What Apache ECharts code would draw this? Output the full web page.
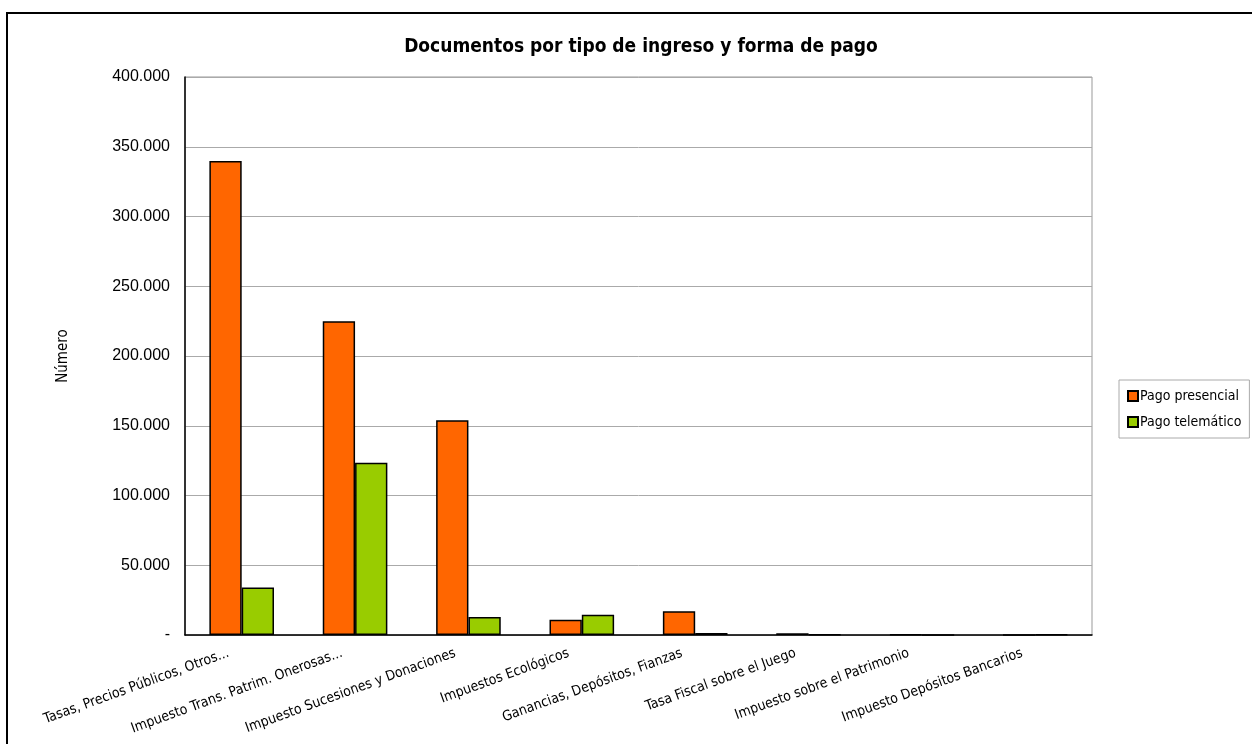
<!DOCTYPE html>
<html>
<head>
<meta charset="utf-8">
<script src="https://cdn.jsdelivr.net/npm/echarts@6/dist/echarts.min.js"></script>
<style>html,body{margin:0;padding:0;background:#fff}#c{width:1252px;height:744px}</style>
</head>
<body>
<div id="c"></div>
<script>
const categories = [
  'Tasas, Precios Públicos, Otros...',
  'Impuesto Trans. Patrim. Onerosas...',
  'Impuesto Sucesiones y Donaciones',
  'Impuestos Ecológicos',
  'Ganancias, Depósitos, Fianzas',
  'Tasa Fiscal sobre el Juego',
  'Impuesto sobre el Patrimonio',
  'Impuesto Depósitos Bancarios'
];
const pagoPresencial = [339700, 225000, 154000, 11000, 17000, 1200, 400, 0];
const pagoTelematico = [34000, 123500, 12900, 14600, 1500, 300, 50, 300];
const seriesNames = ['Pago presencial', 'Pago telemático'];
const yTicks = { min: 0, max: 400000, interval: 50000 };

const FONT = 'DejaVu Sans Condensed';
const chart = echarts.init(document.getElementById('c'));
function fmt(v) {
  if (v === 0) return '-';
  return String(v).replace(/\B(?=(\d{3})+(?!\d))/g, '.');
}
chart.setOption({
  animation: false,
  title: {
    text: 'Documentos por tipo de ingreso y forma de pago',
    left: 636, textAlign: 'center', top: 33,
    textStyle: { fontFamily: FONT, fontWeight: 'bold', fontSize: 19, color: '#000' }
  },
  graphic: [{
    type: 'rect', shape: { x: 7, y: 13, width: 1260, height: 760 },
    style: { fill: 'none', stroke: '#000', lineWidth: 2 }, silent: true, z: -1
  }],
  legend: {
    orient: 'vertical', left: 1119, top: 380,
    borderColor: '#aaa', borderWidth: 1, padding: [9, 8, 9, 8],
    itemWidth: 10, itemHeight: 10, itemGap: 12,
    icon: 'rect',
    textStyle: { fontFamily: FONT, fontSize: 14, color: '#000', padding: [0, 0, 0, -3] },
    data: seriesNames
  },
  grid: { left: 185, right: 160, top: 77, bottom: 109, show: true, borderColor: '#999', borderWidth: 1 },
  xAxis: {
    type: 'category', data: categories,
    axisLine: { lineStyle: { color: '#000', width: 1.5 } },
    axisTick: { show: false },
    axisLabel: { interval: 0, rotate: 20, margin: 13, fontFamily: FONT, fontSize: 14, color: '#000', padding: [0, 14, 0, 0] }
  },
  yAxis: {
    type: 'value', min: yTicks.min, max: yTicks.max, interval: yTicks.interval,
    name: 'Número', nameLocation: 'middle', nameGap: 114, nameRotate: 90,
    nameTextStyle: { fontFamily: FONT, fontSize: 15, color: '#000' },
    axisLine: { show: true, lineStyle: { color: '#000', width: 1.5 } },
    axisTick: { show: false },
    splitLine: { lineStyle: { color: '#aaa', width: 1 } },
    axisLabel: { formatter: fmt, margin: 15, fontFamily: 'Liberation Sans', fontSize: 16, color: '#000' }
  },
  series: [
    { name: seriesNames[0], type: 'bar', data: pagoPresencial, barGap: '0%', barCategoryGap: '43%',
      itemStyle: { color: '#FF6600', borderColor: '#000', borderWidth: 1.5 } },
    { name: seriesNames[1], type: 'bar', data: pagoTelematico, barGap: '0%', barCategoryGap: '43%',
      itemStyle: { color: '#99CC00', borderColor: '#000', borderWidth: 1.5 } }
  ]
});
</script>
</body>
</html>
